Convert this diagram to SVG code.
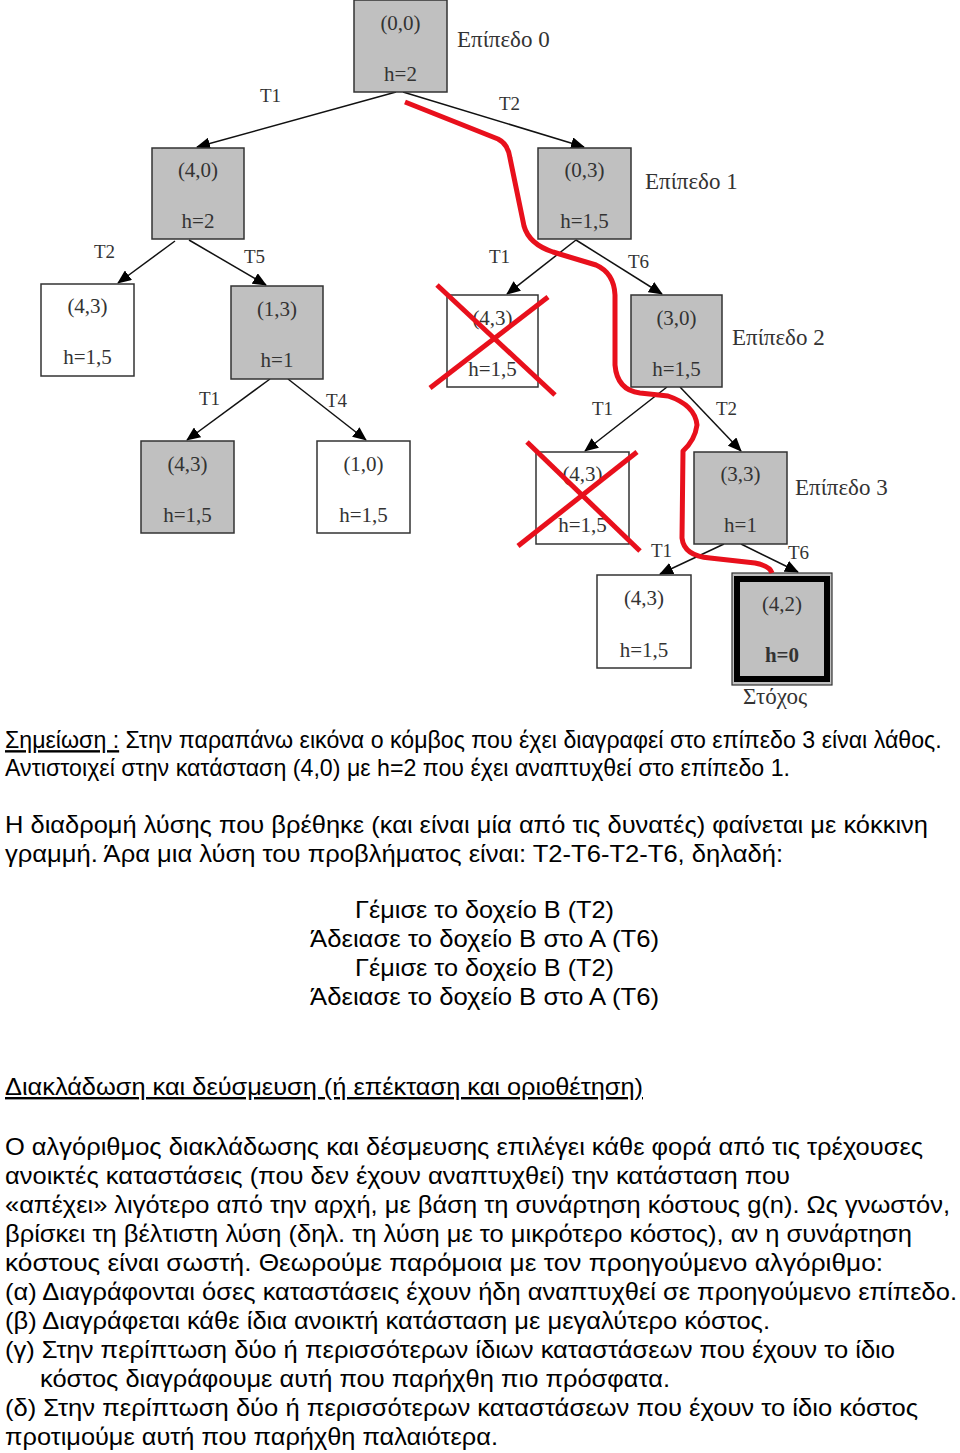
<svg xmlns="http://www.w3.org/2000/svg" width="960" height="1453" viewBox="0 0 960 1453">
<style>
.box{fill:#c0c0c0;stroke:#333;stroke-width:1.5}
.wbox{fill:#fff;stroke:#333;stroke-width:1.5}
.nt{font-family:"Liberation Serif",serif;font-size:21px;fill:#333;text-anchor:middle}
.lv{font-family:"Liberation Serif",serif;font-size:23px;fill:#333}
.el{font-family:"Liberation Serif",serif;font-size:19px;fill:#333}
.edge{stroke:#111;stroke-width:1.5;fill:none;marker-end:url(#ah)}
.cross{stroke:#e8101c;stroke-width:5;stroke-linecap:butt}
.path{stroke:#e8101c;stroke-width:5;fill:none;stroke-linejoin:round}
.tx{font-family:"Liberation Sans",Arial,sans-serif;font-size:24px;fill:#000}
.tc{font-family:"Liberation Sans",Arial,sans-serif;font-size:24.5px;fill:#000}
</style>
<defs>
<marker id="ah" markerWidth="14" markerHeight="12" refX="13" refY="6" orient="auto" markerUnits="userSpaceOnUse">
<path d="M0,0 L14,6 L0,12 Z" fill="#000"/>
</marker>
</defs>
<g id="connectors">
<line class="edge" x1="396" y1="92" x2="197" y2="147"/>
<line class="edge" x1="403" y1="92" x2="584" y2="147"/>
<line class="edge" x1="175" y1="241" x2="118" y2="283"/>
<line class="edge" x1="189" y1="240" x2="266" y2="285"/>
<line class="edge" x1="270" y1="379" x2="187" y2="440"/>
<line class="edge" x1="288" y1="379" x2="366" y2="440"/>
<line class="edge" x1="576" y1="240" x2="507" y2="294"/>
<line class="edge" x1="576" y1="240" x2="662" y2="294"/>
<line class="edge" x1="667" y1="387" x2="585" y2="451"/>
<line class="edge" x1="680" y1="387" x2="741" y2="451"/>
<line class="edge" x1="724" y1="544" x2="660" y2="574"/>
<line class="edge" x1="741" y1="544" x2="798" y2="572"/>
<text class="el" x="260" y="102">T1</text>
<text class="el" x="499" y="110">T2</text>
<text class="el" x="94" y="258">T2</text>
<text class="el" x="244" y="263">T5</text>
<text class="el" x="199" y="405">T1</text>
<text class="el" x="326" y="407">T4</text>
<text class="el" x="489" y="263">T1</text>
<text class="el" x="628" y="268">T6</text>
<text class="el" x="592" y="415">T1</text>
<text class="el" x="716" y="415">T2</text>
<text class="el" x="651" y="557">T1</text>
<text class="el" x="788" y="559">T6</text>
</g>
<g id="n00"><rect class="box" x="354" y="0" width="93" height="92"/><text class="nt" x="400.5" y="30">(0,0)</text><text class="nt" x="400.5" y="81">h=2</text></g>
<g id="n40"><rect class="box" x="152" y="148" width="92" height="91"/><text class="nt" x="198" y="177">(4,0)</text><text class="nt" x="198" y="228">h=2</text></g>
<g id="n03"><rect class="box" x="538" y="148" width="93" height="91"/><text class="nt" x="584.5" y="177">(0,3)</text><text class="nt" x="584.5" y="228">h=1,5</text></g>
<g id="n43a"><rect class="wbox" x="41" y="284" width="93" height="92"/><text class="nt" x="87.5" y="313">(4,3)</text><text class="nt" x="87.5" y="364">h=1,5</text></g>
<g id="n13"><rect class="box" x="231" y="286" width="92" height="93"/><text class="nt" x="277" y="316">(1,3)</text><text class="nt" x="277" y="367">h=1</text></g>
<g id="n43b"><rect class="box" x="141" y="441" width="93" height="92"/><text class="nt" x="187.5" y="471">(4,3)</text><text class="nt" x="187.5" y="522">h=1,5</text></g>
<g id="n10"><rect class="wbox" x="317" y="441" width="93" height="92"/><text class="nt" x="363.5" y="471">(1,0)</text><text class="nt" x="363.5" y="522">h=1,5</text></g>
<g id="n43c"><rect class="wbox" x="447" y="295" width="91" height="92"/><text class="nt" x="492.5" y="325">(4,3)</text><text class="nt" x="492.5" y="376">h=1,5</text>
<line class="cross" x1="437" y1="285" x2="555" y2="395"/><line class="cross" x1="548" y1="297" x2="430" y2="388"/></g>
<g id="n30"><rect class="box" x="631" y="295" width="91" height="92"/><text class="nt" x="676.5" y="325">(3,0)</text><text class="nt" x="676.5" y="376">h=1,5</text></g>
<g id="n43d"><rect class="wbox" x="536" y="452" width="93" height="92"/><text class="nt" x="582.5" y="481">(4,3)</text><text class="nt" x="582.5" y="532">h=1,5</text>
<line class="cross" x1="527" y1="442" x2="640" y2="551"/><line class="cross" x1="637" y1="452" x2="518" y2="546"/></g>
<g id="n33"><rect class="box" x="694" y="452" width="93" height="92"/><text class="nt" x="740.5" y="481">(3,3)</text><text class="nt" x="740.5" y="532">h=1</text></g>
<g id="n43e"><rect class="wbox" x="597" y="575" width="94" height="93"/><text class="nt" x="644" y="605">(4,3)</text><text class="nt" x="644" y="657">h=1,5</text></g>
<g id="n42"><rect x="732" y="573" width="100" height="112" fill="#c0c0c0" stroke="#333" stroke-width="1.2"/><rect x="737" y="579" width="90" height="100" fill="#c0c0c0" stroke="#000" stroke-width="6"/><text class="nt" x="782" y="611">(4,2)</text><text class="nt" x="782" y="662" font-weight="bold">h=0</text></g>
<g id="levels">
<text class="lv" x="457" y="47">Επίπεδο 0</text>
<text class="lv" x="645" y="189">Επίπεδο 1</text>
<text class="lv" x="732" y="345">Επίπεδο 2</text>
<text class="lv" x="795" y="495">Επίπεδο 3</text>
<text class="lv" x="743" y="704">Στόχος</text>
</g>
<g id="solution-path">
<path class="path" d="M405,102 L498,139 Q508,144 510,158 L524,226 Q529,244 553,252 L596,265 Q614,273 615,295 L615,365 Q617,390 640,393 L668,396 Q695,405 697,425 Q695,440 683,451 L682,538 Q684,556 710,558 L755,563 Q770,566 772,573"/>
</g>
<g id="text">
<text class="tx" transform="scale(0.85,1)" x="5.88" y="748" textLength="1102" lengthAdjust="spacingAndGlyphs"><tspan text-decoration="underline">Σημείωση :</tspan> Στην παραπάνω εικόνα ο κόμβος που έχει διαγραφεί στο επίπεδο 3 είναι λάθος.</text>
<text class="tx" x="5" y="776" textLength="785" lengthAdjust="spacingAndGlyphs">Αντιστοιχεί στην κατάσταση (4,0) με h=2 που έχει αναπτυχθεί στο επίπεδο 1.</text>
<text class="tx" x="5" y="833" textLength="923" lengthAdjust="spacingAndGlyphs">Η διαδρομή λύσης που βρέθηκε (και είναι μία από τις δυνατές) φαίνεται με κόκκινη</text>
<text class="tx" x="5" y="862" textLength="778" lengthAdjust="spacingAndGlyphs">γραμμή. Άρα μια λύση του προβλήματος είναι: Τ2-Τ6-Τ2-Τ6, δηλαδή:</text>
<text class="tc" x="355" y="918" textLength="259" lengthAdjust="spacingAndGlyphs">Γέμισε το δοχείο Β (Τ2)</text>
<text class="tc" x="310" y="947" textLength="349" lengthAdjust="spacingAndGlyphs">Άδειασε το δοχείο Β στο Α (Τ6)</text>
<text class="tc" x="355" y="976" textLength="259" lengthAdjust="spacingAndGlyphs">Γέμισε το δοχείο Β (Τ2)</text>
<text class="tc" x="310" y="1005" textLength="349" lengthAdjust="spacingAndGlyphs">Άδειασε το δοχείο Β στο Α (Τ6)</text>
<text class="tx" x="5" y="1095" textLength="638" lengthAdjust="spacingAndGlyphs" text-decoration="underline">Διακλάδωση και δεύσμευση (ή επέκταση και οριοθέτηση)</text>
<text class="tx" x="5" y="1155" textLength="918" lengthAdjust="spacingAndGlyphs">Ο αλγόριθμος διακλάδωσης και δέσμευσης επιλέγει κάθε φορά από τις τρέχουσες</text>
<text class="tx" x="5" y="1184" textLength="785" lengthAdjust="spacingAndGlyphs">ανοικτές καταστάσεις (που δεν έχουν αναπτυχθεί) την κατάσταση που</text>
<text class="tx" x="5" y="1213" textLength="945" lengthAdjust="spacingAndGlyphs">«απέχει» λιγότερο από την αρχή, με βάση τη συνάρτηση κόστους g(n). Ως γνωστόν,</text>
<text class="tx" x="5" y="1242" textLength="907" lengthAdjust="spacingAndGlyphs">βρίσκει τη βέλτιστη λύση (δηλ. τη λύση με το μικρότερο κόστος), αν η συνάρτηση</text>
<text class="tx" x="5" y="1271" textLength="878" lengthAdjust="spacingAndGlyphs">κόστους είναι σωστή. Θεωρούμε παρόμοια με τον προηγούμενο αλγόριθμο:</text>
<text class="tx" x="5" y="1300" textLength="952" lengthAdjust="spacingAndGlyphs">(α) Διαγράφονται όσες καταστάσεις έχουν ήδη αναπτυχθεί σε προηγούμενο επίπεδο.</text>
<text class="tx" x="5" y="1329" textLength="765" lengthAdjust="spacingAndGlyphs">(β) Διαγράφεται κάθε ίδια ανοικτή κατάσταση με μεγαλύτερο κόστος.</text>
<text class="tx" x="5" y="1358" textLength="890" lengthAdjust="spacingAndGlyphs">(γ) Στην περίπτωση δύο ή περισσότερων ίδιων καταστάσεων που έχουν το ίδιο</text>
<text class="tx" x="40" y="1387" textLength="630" lengthAdjust="spacingAndGlyphs">κόστος διαγράφουμε αυτή που παρήχθη πιο πρόσφατα.</text>
<text class="tx" x="5" y="1416" textLength="913" lengthAdjust="spacingAndGlyphs">(δ) Στην περίπτωση δύο ή περισσότερων καταστάσεων που έχουν το ίδιο κόστος</text>
<text class="tx" x="5" y="1445" textLength="493" lengthAdjust="spacingAndGlyphs">προτιμούμε αυτή που παρήχθη παλαιότερα.</text>
</g>
</svg>
